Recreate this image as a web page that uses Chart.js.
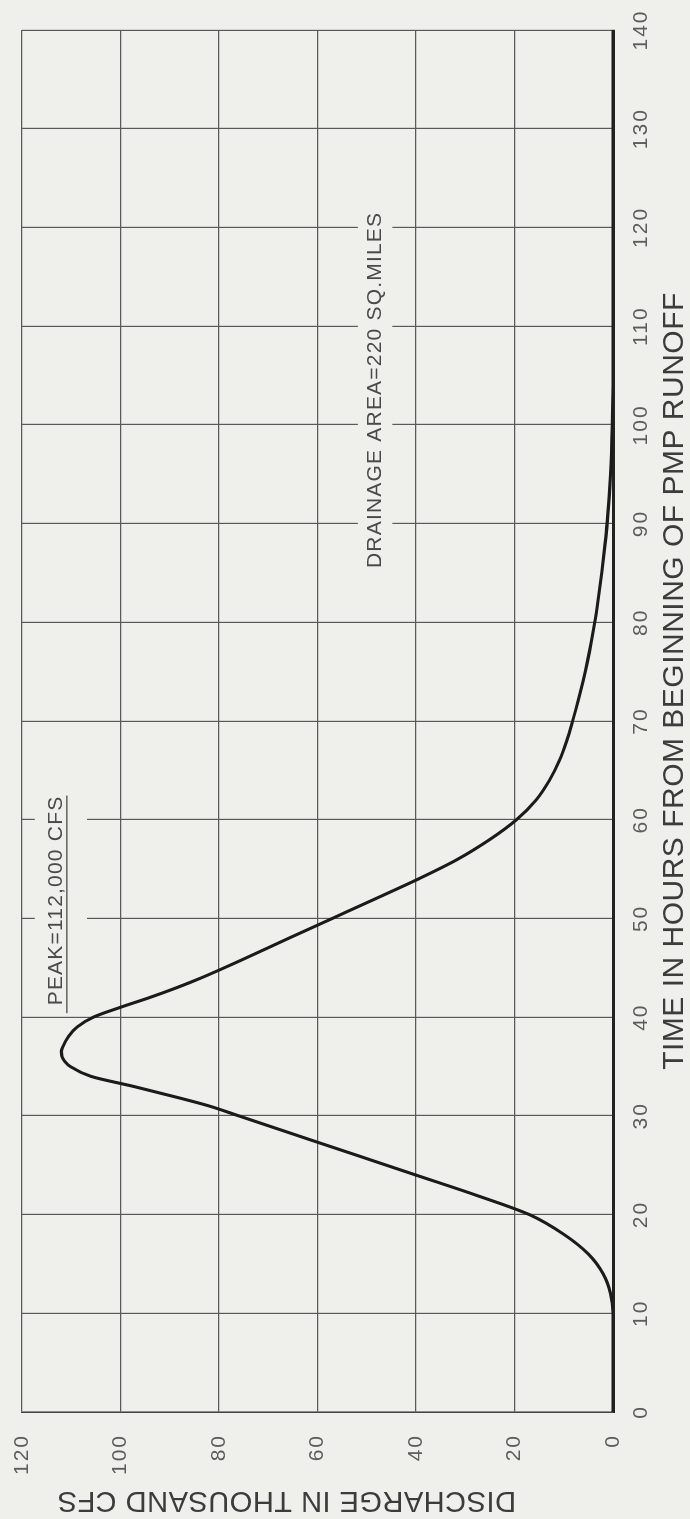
<!DOCTYPE html>
<html>
<head>
<meta charset="utf-8">
<script src="https://cdn.jsdelivr.net/npm/chart.js@4.4.1/dist/chart.umd.min.js"></script>
<style>
  html, body { margin: 0; padding: 0; background: #efefec; width: 690px; height: 1519px; overflow: hidden; }
  /* The hydrograph is laid out in landscape and turned a quarter turn counter-clockwise */
  #sheet { position: absolute; left: 0; top: 0; width: 1519px; height: 690px;
           transform-origin: 0 0; transform: translate(0, 1519px) rotate(-90deg); }
  canvas { display: block; }
</style>
</head>
<body>
<div id="sheet"><canvas id="hydro" width="1519" height="690"></canvas></div>
<script>
// PMP runoff hydrograph: time (hours) vs discharge (thousand cfs)
const hours = [0, 5, 10, 12, 14, 16, 18, 20, 22, 24, 26, 28, 30, 31, 32, 33, 34, 35, 35.5, 36, 36.5,
  37, 38, 39, 40, 41, 42, 43, 44, 46, 48, 50, 52, 54, 56, 58, 60, 62, 64, 66, 68, 70, 72, 74, 76,
  78, 80, 82, 85, 88, 90, 95, 100, 105, 110, 120, 130, 140];
const discharge = [0, 0, 0, 0.5, 2, 5, 10, 17, 28, 40, 52, 64, 76, 82, 89.5, 97.5, 106, 110.2, 111.3, 111.9, 112,
  111.7, 110.6, 108.8, 105.5, 100, 94, 88.5, 83.5, 74.5, 65.8, 57, 48.2, 39.5, 31.5, 25, 19.6, 15.6, 12.9, 10.9, 9.4, 8.2, 7.1, 6.1, 5.2,
  4.4, 3.7, 3.1, 2.3, 1.6, 1.2, 0.5, 0.15, 0, 0, 0, 0, 0];

const hourTicks = [0, 10, 20, 30, 40, 50, 60, 70, 80, 90, 100, 110, 120, 130, 140];
const dischargeTicks = [0, 20, 40, 60, 80, 100, 120];

const timeTitle = 'TIME IN HOURS FROM BEGINNING OF PMP RUNOFF';
const dischargeTitle = 'DISCHARGE IN THOUSAND CFS';
const peakNote = 'PEAK=112,000 CFS';
const areaNote = 'DRAINAGE AREA=220 SQ.MILES';

const PAPER = '#efefec';
const FONT = '"Liberation Sans", Arial, Helvetica, sans-serif';

// Notes written inside the grid; the grid lines are broken where they pass under the lettering
const notes = [
  { text: peakNote, hour: 41.2, q: 113.1, underline: { q: 110.9, from: 40.4 }, clear: [106.8, 117.4] },
  { text: areaNote, hour: 85.5, q: 48.3, underline: null, clear: [44.8, 51.8] }
];

// Wider lettering for the tick numerals
const letteringPlugin = {
  id: 'lettering',
  beforeDraw(chart) { chart.ctx.letterSpacing = '2px'; }
};

const notesPlugin = {
  id: 'notes',
  afterDatasetsDraw(chart) {
    const { ctx, scales: { x, y } } = chart;
    ctx.save();
    ctx.font = '21px ' + FONT;
    ctx.letterSpacing = '1.2px';
    notes.forEach(n => {
      const x0 = x.getPixelForValue(n.hour);
      const w = ctx.measureText(n.text).width;
      const yTop = y.getPixelForValue(n.clear[1]);
      const yBot = y.getPixelForValue(n.clear[0]);
      ctx.fillStyle = PAPER;
      ctx.fillRect(x0 - 6, yTop, w + 14, yBot - yTop);
      ctx.fillStyle = '#4a4a4a';
      ctx.textAlign = 'left';
      ctx.textBaseline = 'middle';
      ctx.fillText(n.text, x0, y.getPixelForValue(n.q));
      if (n.underline) {
        const uy = y.getPixelForValue(n.underline.q);
        ctx.strokeStyle = '#444';
        ctx.lineWidth = 1.3;
        ctx.beginPath();
        ctx.moveTo(x.getPixelForValue(n.underline.from), uy);
        ctx.lineTo(x0 + w, uy);
        ctx.stroke();
      }
    });
    ctx.restore();
  }
};

// Axis titles, lettered a little off the centre of each axis
const titlesPlugin = {
  id: 'axisTitles',
  afterDraw(chart) {
    const { ctx, chartArea: a } = chart;
    ctx.save();
    ctx.letterSpacing = '0.5px';
    ctx.fillStyle = '#3c3c3c';
    ctx.textAlign = 'center';
    ctx.textBaseline = 'middle';
    ctx.font = '30px ' + FONT;
    ctx.fillText(timeTitle, (a.left + a.right) / 2 + 40, a.bottom + 62);
    ctx.font = '29px ' + FONT;
    ctx.translate(19, (a.top + a.bottom) / 2 - 31);
    ctx.rotate(-Math.PI / 2);
    ctx.fillText(dischargeTitle, 0, 0);
    ctx.restore();
  }
};

new Chart(document.getElementById('hydro'), {
  type: 'line',
  data: {
    datasets: [{
      data: hours.map((h, i) => ({ x: h, y: discharge[i] })),
      borderColor: '#1b1b1b',
      borderWidth: 3.1,
      pointRadius: 0,
      fill: false,
      cubicInterpolationMode: 'monotone'
    }]
  },
  options: {
    responsive: false,
    devicePixelRatio: 1,
    animation: false,
    layout: { padding: { left: 0, top: 22, right: 30, bottom: 0 } },
    plugins: { legend: { display: false }, tooltip: { enabled: false } },
    scales: {
      x: {
        type: 'linear', min: 0, max: 140,
        afterBuildTicks: s => { s.ticks = hourTicks.map(v => ({ value: v })); },
        afterFit: s => { s.height = 77; s.paddingLeft = 0; s.paddingRight = 0; },
        grid: { color: '#5a5a5a', lineWidth: 1.2, drawTicks: false },
        border: { color: '#222', width: 3 },
        ticks: { color: '#5c5c5c', font: { family: FONT, size: 21 }, padding: 16, autoSkip: false, maxRotation: 0 }
      },
      y: {
        type: 'linear', min: 0, max: 120,
        afterBuildTicks: s => { s.ticks = dischargeTicks.map(v => ({ value: v })); },
        afterFit: s => { s.width = 107; s.paddingTop = 0; s.paddingBottom = 0; },
        grid: { color: '#5a5a5a', lineWidth: 1.2, drawTicks: false },
        border: { color: '#444', width: 1.5 },
        ticks: { color: '#5c5c5c', font: { family: FONT, size: 21 }, padding: 22 }
      }
    }
  },
  plugins: [letteringPlugin, notesPlugin, titlesPlugin]
});
</script>
</body>
</html>
